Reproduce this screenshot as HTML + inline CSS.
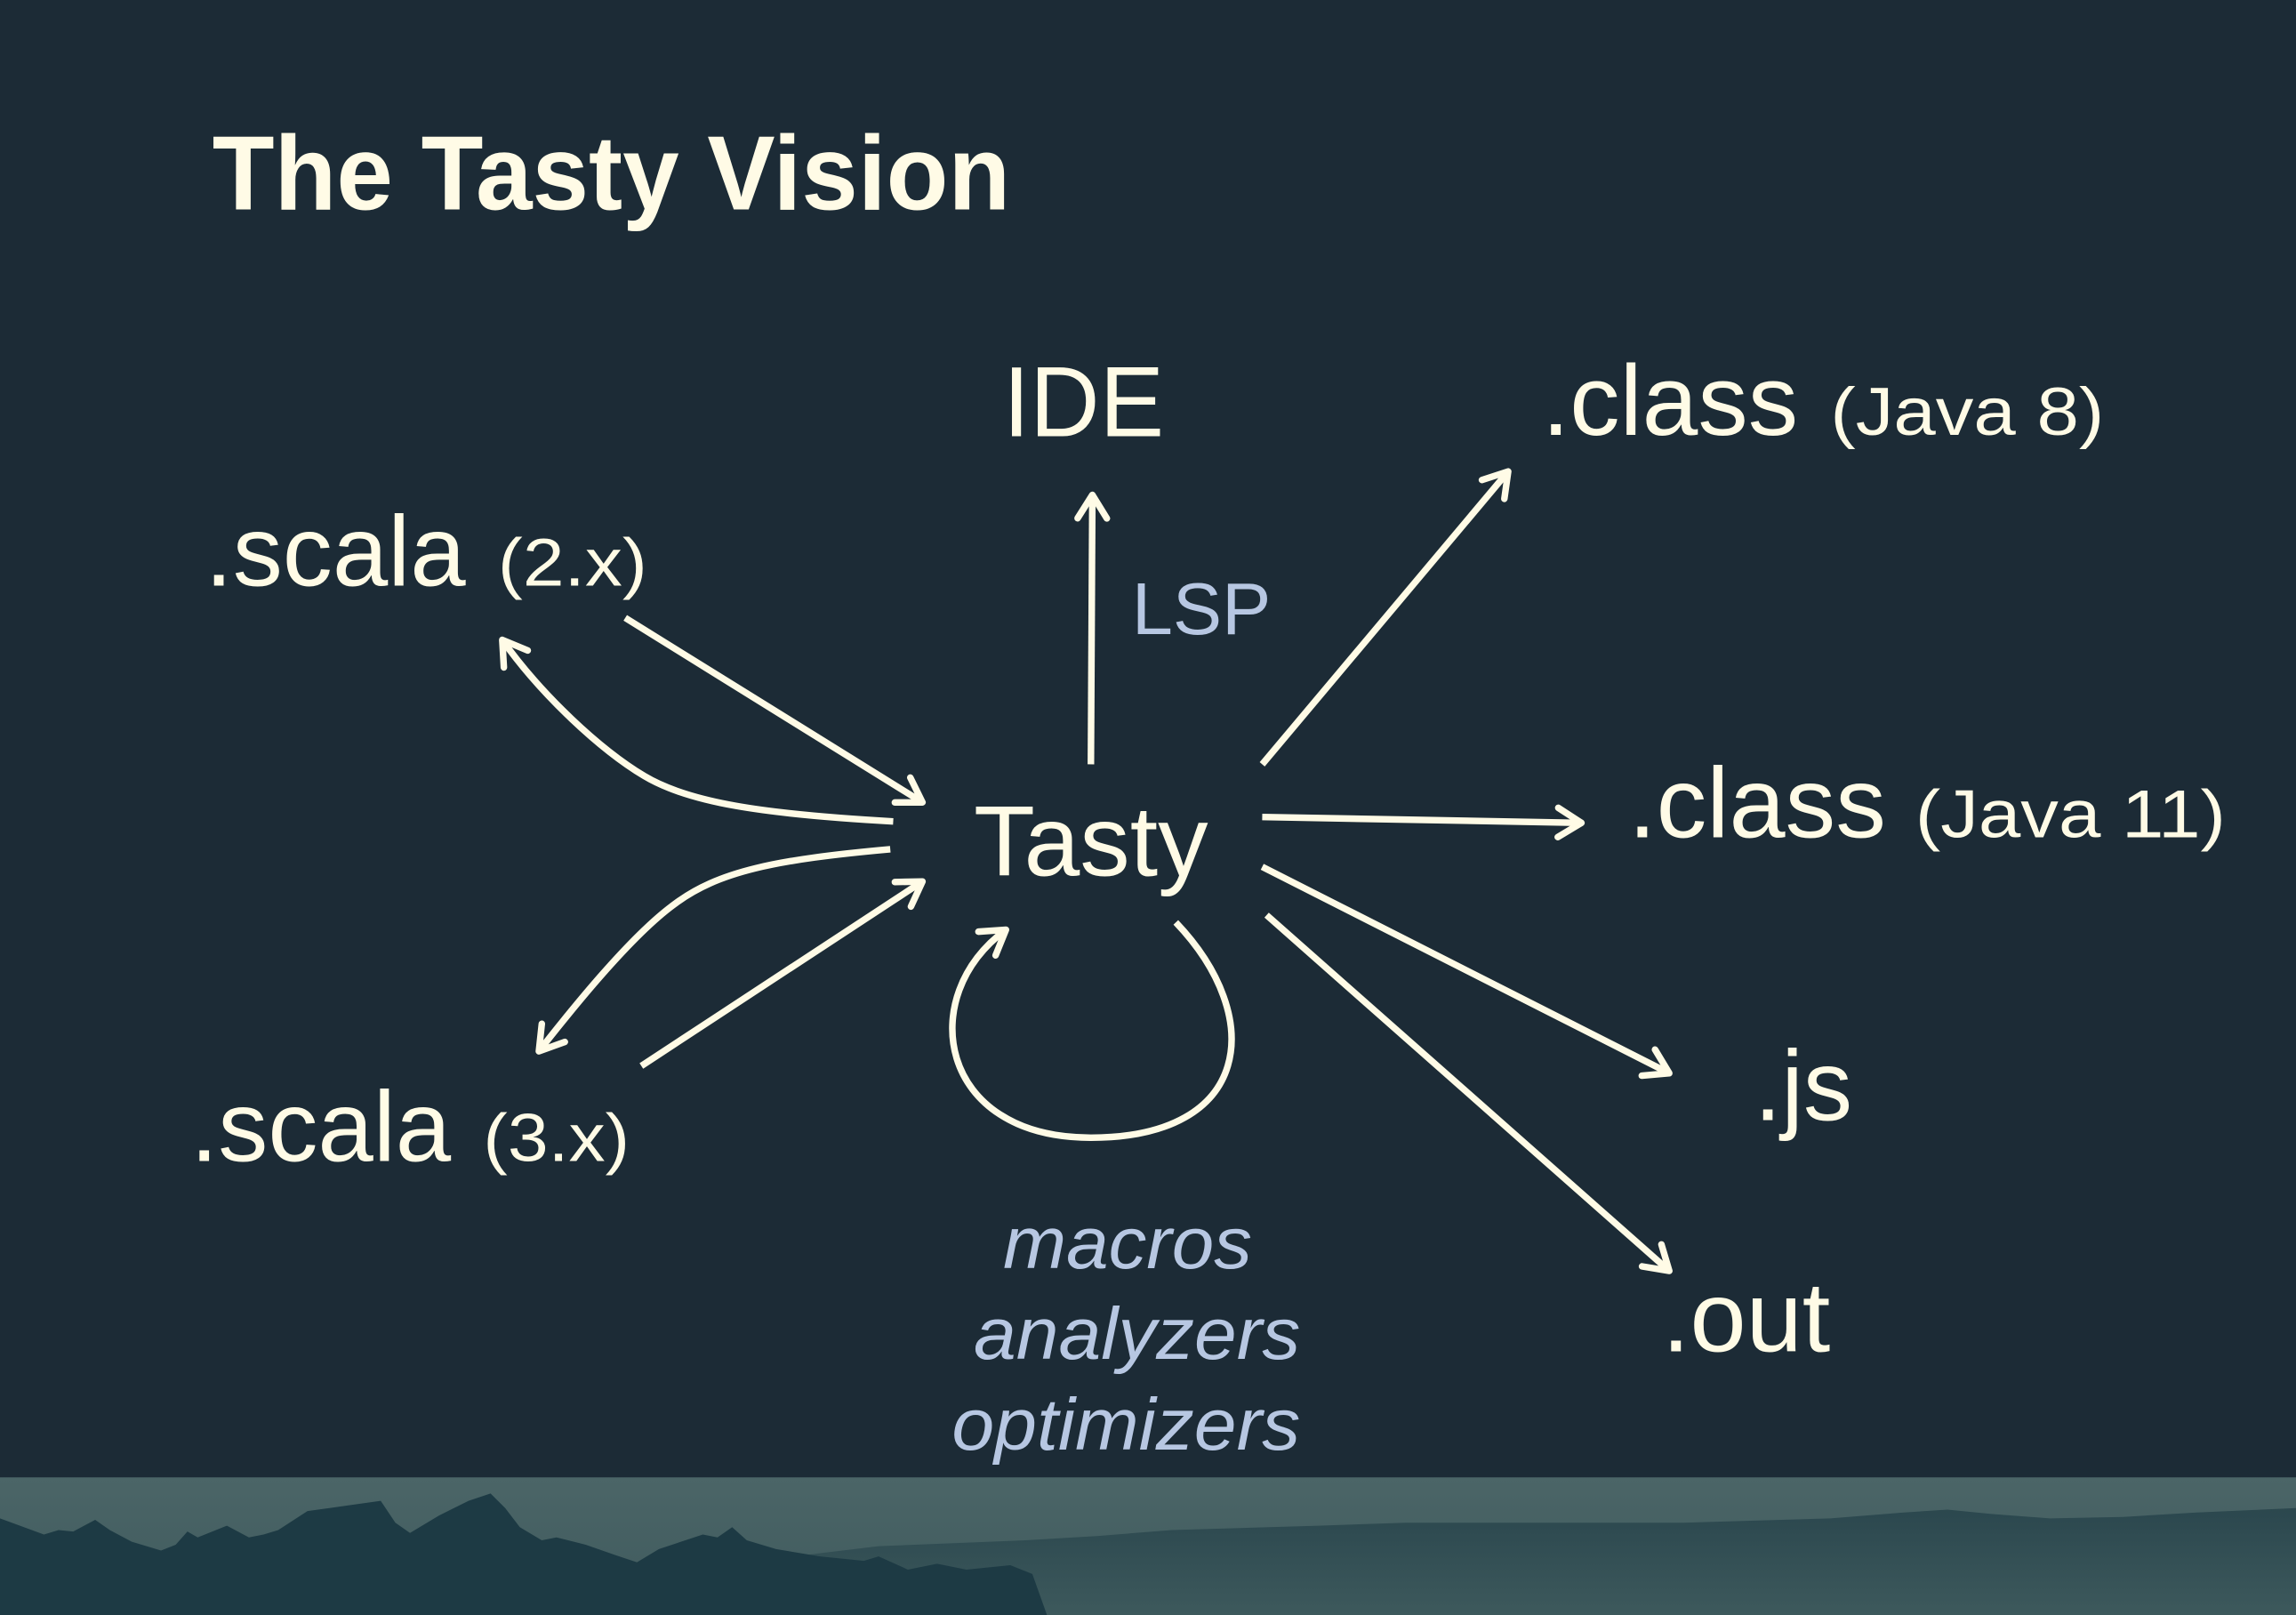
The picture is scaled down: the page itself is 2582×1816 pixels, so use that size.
<!DOCTYPE html>
<html><head><meta charset="utf-8"><style>
html,body{margin:0;padding:0;background:#1c2b36;}
svg{display:block;}
</style></head><body>
<svg width="2582" height="1816" viewBox="0 0 1568 1103" preserveAspectRatio="none" xmlns="http://www.w3.org/2000/svg">
<defs>
<marker id="a" markerUnits="userSpaceOnUse" markerWidth="40" markerHeight="40" refX="20" refY="20" orient="auto">
<polyline points="4,10 20,20 4,30" fill="none" stroke="#fffbe6" stroke-width="4.5" stroke-linecap="round" stroke-linejoin="round"/>
</marker>
<linearGradient id="sky" x1="0" y1="0" x2="0" y2="1">
<stop offset="0" stop-color="#4b6567"/><stop offset="1" stop-color="#3f5a5d"/>
</linearGradient>
<linearGradient id="far" x1="0" y1="0" x2="0" y2="1">
<stop offset="0" stop-color="#2b474e"/><stop offset="1" stop-color="#3d595c"/>
</linearGradient>
</defs>
<rect width="1568" height="1103" fill="#1c2b36"/>
<rect y="1009" width="1568" height="94" fill="url(#sky)"/>
<polygon fill="url(#far)" points="550,1062 600,1056 700,1052 750,1049 800,1045 900,1042 960,1040 1050,1040 1150,1040 1250,1037 1300,1033 1330,1031 1360,1034 1400,1037 1450,1036 1500,1033 1568,1030 1568,1103 550,1103"/>
<polygon fill="#1d3a44" points="0,1037 30,1048 40,1045 50,1046 65,1038 75,1045 90,1053 110,1059 120,1055 128,1046 135,1050 155,1042 170,1050 180,1048 190,1045 210,1032 225,1030 260,1025 270,1040 280,1047 300,1035 320,1025 335,1020 345,1030 355,1043 370,1052 380,1050 400,1055 420,1062 435,1067 450,1058 480,1048 490,1050 500,1043 510,1052 530,1058 560,1063 590,1066 600,1063 620,1072 640,1068 660,1072 690,1069 705,1075 715,1103 0,1103"/>
<g font-family="Liberation Sans, Arial, sans-serif" fill="#fffbe6">
<text x="145" y="143" font-size="72" font-weight="bold" textLength="545" lengthAdjust="spacingAndGlyphs">The Tasty Vision</text>
<text x="685" y="298" font-size="68" textLength="110" lengthAdjust="spacingAndGlyphs">IDE</text>
<text x="1053" y="297" font-size="68" textLength="175" lengthAdjust="spacingAndGlyphs">.class</text>
<text x="1250" y="297" font-size="46" textLength="187" lengthAdjust="spacingAndGlyphs">(Java 8)</text>
<text x="140" y="400" font-size="68" textLength="178" lengthAdjust="spacingAndGlyphs">.scala</text>
<text x="340" y="400" font-size="46" textLength="102" lengthAdjust="spacingAndGlyphs">(2.x)</text>
<text x="665" y="598" font-size="68" textLength="160" lengthAdjust="spacingAndGlyphs">Tasty</text>
<text x="1112" y="572" font-size="68" textLength="176" lengthAdjust="spacingAndGlyphs">.class</text>
<text x="1308" y="572" font-size="46" textLength="212" lengthAdjust="spacingAndGlyphs">(Java 11)</text>
<text x="130" y="793" font-size="68" textLength="178" lengthAdjust="spacingAndGlyphs">.scala</text>
<text x="330" y="793" font-size="46" textLength="100" lengthAdjust="spacingAndGlyphs">(3.x)</text>
<text x="1198" y="765" font-size="68" textLength="67" lengthAdjust="spacingAndGlyphs">.js</text>
<text x="1135" y="923" font-size="68" textLength="115" lengthAdjust="spacingAndGlyphs">.out</text>
</g>
<g font-family="Liberation Sans, Arial, sans-serif" fill="#b7c7e2" font-size="50">
<text x="773" y="433" textLength="95" lengthAdjust="spacingAndGlyphs">LSP</text>
<text x="685" y="866" font-style="italic" textLength="170" lengthAdjust="spacingAndGlyphs">macros</text>
<text x="665" y="928" font-style="italic" textLength="223" lengthAdjust="spacingAndGlyphs">analyzers</text>
<text x="650" y="990" font-style="italic" textLength="238" lengthAdjust="spacingAndGlyphs">optimizers</text>
</g>
<g stroke="#fffbe6" stroke-width="4.5" fill="none" stroke-linecap="butt" marker-end="url(#a)">
<line x1="745" y1="522" x2="746" y2="338"/>
<line x1="862" y1="522" x2="1030" y2="322"/>
<line x1="862" y1="558" x2="1080" y2="562"/>
<line x1="862" y1="592" x2="1140" y2="733"/>
<line x1="865" y1="625" x2="1140" y2="868"/>
<line x1="427" y1="422" x2="630" y2="548"/>
<line x1="438" y1="728" x2="630" y2="602"/>
<path d="M610,561 C520,556 470,548 440,530 C410,512 370,475 343,437"/>
<path d="M608,580 C530,587 490,595 460,618 C430,640 390,690 368,718"/>
<path d="M803,630 C865,695 855,777 745,777 C640,777 625,680 687,635"/>
</g>
</svg>
</body></html>
